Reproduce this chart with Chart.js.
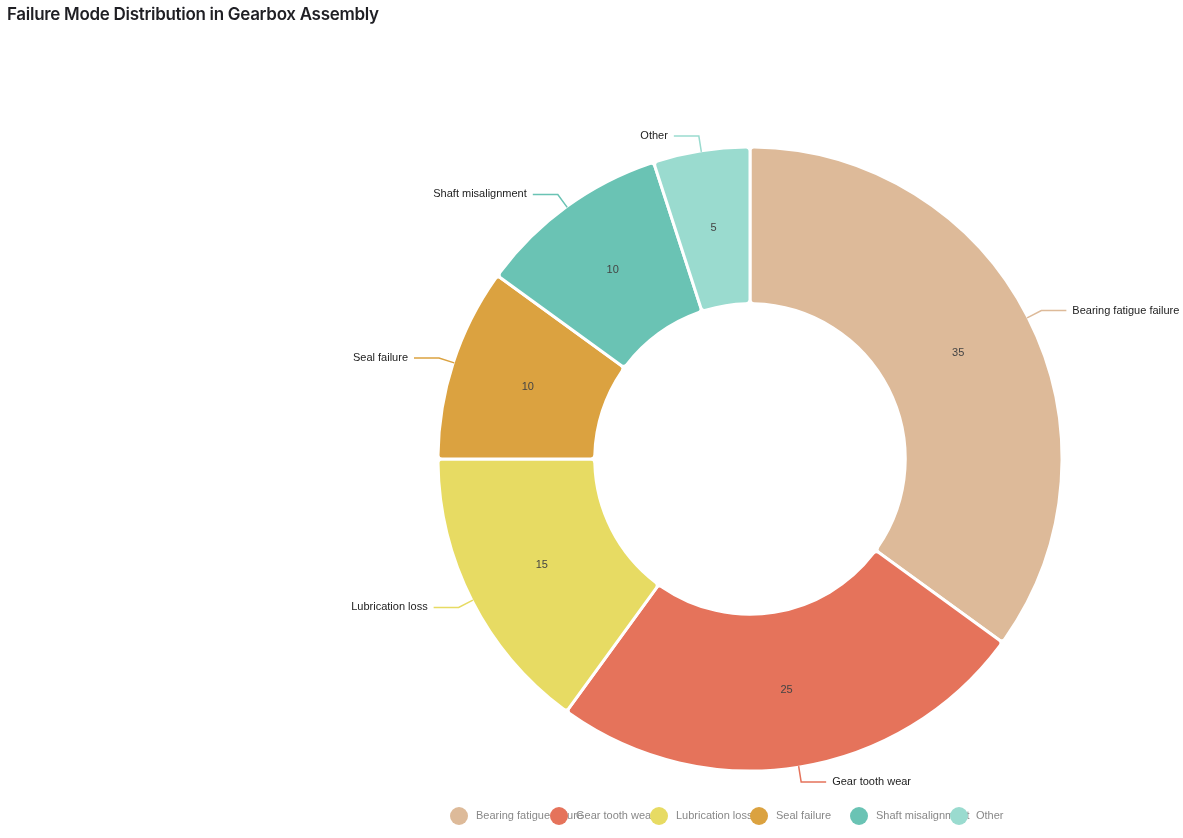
<!DOCTYPE html>
<html>
<head>
<meta charset="utf-8">
<script src="https://cdn.jsdelivr.net/npm/chart.js@4.4.1/dist/chart.umd.min.js"></script>
<style>
  html, body { margin: 0; padding: 0; background: #fff; }
  #title { position: absolute; left: 7px; top: 4px; font-family: Inter, "Liberation Sans", sans-serif; font-weight: 600; font-size: 17px; color: #1f1f24; letter-spacing: -0.3px; }
  #wrap { position: absolute; left: 0; top: 0; width: 1183px; height: 838px; }
</style>
</head>
<body>
<div id="wrap"><canvas id="failChart" width="1183" height="838"></canvas></div>
<div id="title">Failure Mode Distribution in Gearbox Assembly</div>
<script>
// failure modes and their share (percent)
const failureModes = ['Bearing fatigue failure', 'Gear tooth wear', 'Lubrication loss', 'Seal failure', 'Shaft misalignment', 'Other'];
const failureShare = [35, 25, 15, 10, 10, 5];
const sliceColors = ['#ddba99', '#e5735b', '#e7db63', '#dba240', '#6ac3b4', '#9adbcf'];

// draws the outside labels with leader lines + the values inside each slice
const sliceLabels = {
    id: 'sliceLabels',
    afterDatasetsDraw(chart) {
        const ctx = chart.ctx;
        const meta = chart.getDatasetMeta(0);
        ctx.save();
        meta.data.forEach((arc, i) => {
            const p = arc.getProps(['x', 'y', 'startAngle', 'endAngle', 'outerRadius', 'innerRadius'], true);
            const mid = (p.startAngle + p.endAngle) / 2;
            const r = p.outerRadius;
            // value in the middle of the ring
            const c = arc.tooltipPosition(true);
            ctx.font = '11px "Liberation Sans", Arial, sans-serif';
            ctx.fillStyle = '#444';
            ctx.textAlign = 'center';
            ctx.textBaseline = 'middle';
            ctx.fillText(chart.data.datasets[0].data[i], c.x, c.y);

            // leader line
            const x1 = p.x + Math.cos(mid) * (r - 1), y1 = p.y + Math.sin(mid) * (r - 1);
            const x2 = p.x + Math.cos(mid) * (r + 15), y2 = p.y + Math.sin(mid) * (r + 15);
            const right = Math.cos(mid) >= 0;
            const x3 = x2 + (right ? 25 : -25);
            ctx.strokeStyle = sliceColors[i];
            ctx.lineWidth = 1.5;
            ctx.beginPath();
            ctx.moveTo(x1, y1);
            ctx.lineTo(x2, y2);
            ctx.lineTo(x3, y2);
            ctx.stroke();
            ctx.fillStyle = '#222';
            ctx.textAlign = right ? 'left' : 'right';
            ctx.fillText(chart.data.labels[i], x3 + (right ? 6 : -6), y2);
        });
        ctx.restore();
    }
};

// legend with fixed 100px slots along the bottom
const slotLegend = {
    id: 'slotLegend',
    afterDraw(chart) {
        const ctx = chart.ctx;
        const slot = 100;
        const startX = 450;
        const y = 816;
        ctx.save();
        ctx.font = '11px "Liberation Sans", Arial, sans-serif';
        ctx.textBaseline = 'middle';
        ctx.textAlign = 'left';
        chart.data.labels.forEach((lab, i) => {
            const cx = startX + i * slot + 9;
            ctx.fillStyle = sliceColors[i];
            ctx.beginPath();
            ctx.arc(cx, y, 9, 0, Math.PI * 2);
            ctx.fill();
            ctx.fillStyle = '#888';
            ctx.fillText(lab, cx + 17, y);
        });
        ctx.restore();
    }
};

new Chart(document.getElementById('failChart').getContext('2d'), {
    type: 'doughnut',
    data: {
        labels: failureModes,
        datasets: [{
            data: failureShare,
            backgroundColor: sliceColors,
            borderColor: '#ffffff',
            borderWidth: 3,
            borderRadius: 4
        }]
    },
    options: {
        responsive: false,
        animation: false,
        radius: 312,
        cutout: 154,
        layout: { padding: { top: 148, bottom: 68, left: 400, right: 83 } },
        plugins: {
            legend: { display: false },
            title: { display: false },
            tooltip: { enabled: false }
        }
    },
    plugins: [sliceLabels, slotLegend]
});
</script>
</body>
</html>
